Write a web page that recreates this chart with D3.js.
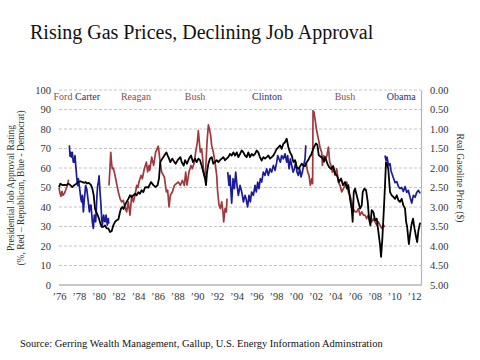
<!DOCTYPE html>
<html><head><meta charset="utf-8">
<script src="https://cdn.jsdelivr.net/npm/d3@7"></script>
<style>body{margin:0;background:#fff} svg{display:block}</style>
</head><body>
<svg id="c" width="480" height="360"></svg>
<script>
const titleText = "Rising Gas Prices, Declining Job Approval";
const sourceText = "Source: Gerring Wealth Management, Gallup, U.S. Energy Information Adminstration";
const leftTitle = ["Presidential Job Approval Rating", "(%, Red \u2013 Republican, Blue - Democrat)"];
const rightTitle = "Real Gasoline Price ($)";
const presidents = ["Ford", "Carter", "Reagan", "Bush", "Clinton", "Bush", "Obama"];
const presidentParty = ["R", "D", "R", "R", "D", "R", "D"];
const presidentLabelYears = [1976.4, 1978.9, 1983.8, 1989.8, 1997.1, 2005.0, 2010.7];
const approvalTicks = [0, 10, 20, 30, 40, 50, 60, 70, 80, 90, 100];
const priceTicks = [0, 0.5, 1, 1.5, 2, 2.5, 3, 3.5, 4, 4.5, 5];
const yearTicks = [1976,1978,1980,1982,1984,1986,1988,1990,1992,1994,1996,1998,2000,2002,2004,2006,2008,2010,2012];

// approval ratings [year, %]
const ford = [[1976.0,50],[1976.1,47],[1976.2,45.5],[1976.3,48],[1976.4,46],[1976.55,47],[1976.7,49],[1976.85,51],[1976.97,54]];
const carter = [[1977.05,71.6],[1977.12,66],[1977.2,68],[1977.28,65.6],[1977.35,68],[1977.45,63],[1977.55,63],[1977.62,66.4],[1977.72,60],[1977.8,55],[1977.89,51],[1977.96,54.5],[1978.13,48],[1978.22,44],[1978.3,42.6],[1978.37,46],[1978.47,37.5],[1978.57,44],[1978.65,48],[1978.7,51],[1978.81,49.4],[1978.97,42.6],[1979.08,37.5],[1979.18,41],[1979.25,40.9],[1979.38,32.4],[1979.48,29],[1979.58,35.8],[1979.65,33],[1979.72,32.4],[1979.85,46],[1979.92,51],[1980.0,53],[1980.06,56],[1980.16,47.7],[1980.26,40.9],[1980.33,34],[1980.39,30.7],[1980.53,35.8],[1980.6,33],[1980.67,32.4],[1980.77,35.8],[1980.9,30.7],[1981.0,34],[1981.05,31.5]];
const reagan = [[1981.07,51],[1981.17,60],[1981.25,68],[1981.34,62],[1981.41,59.6],[1981.5,60],[1981.61,57.9],[1981.75,54.5],[1981.88,51.1],[1982.02,47.7],[1982.19,44.3],[1982.36,42.6],[1982.52,43.4],[1982.69,40],[1982.86,37.5],[1983.03,42.6],[1983.2,35.8],[1983.37,46],[1983.54,42.6],[1983.71,46],[1983.88,51.1],[1984.0,50],[1984.11,52.8],[1984.32,56.2],[1984.45,54.5],[1984.65,59.6],[1984.86,63],[1984.99,58],[1985.13,61.3],[1985.2,58.8],[1985.4,65.6],[1985.6,61.3],[1985.8,68.1],[1986.07,71.2],[1986.24,63.9],[1986.41,57.9],[1986.68,55.4],[1986.89,47.7],[1987.02,48.6],[1987.16,40],[1987.29,46],[1987.49,47.7],[1987.7,51.1],[1987.9,52],[1988.1,52.8],[1988.31,51.1],[1988.51,53.7],[1988.71,51.1],[1988.85,57.9],[1988.98,51.1]];
const bush41 = [[1988.98,51.1],[1989.18,57.9],[1989.39,61.3],[1989.52,59.6],[1989.73,63],[1989.86,68.1],[1990.03,73.3],[1990.13,79.2],[1990.23,73.3],[1990.33,68.1],[1990.47,69.8],[1990.57,64.7],[1990.67,57.9],[1990.81,54.5],[1990.88,59.6],[1991.01,73.3],[1991.15,82.1],[1991.25,80.1],[1991.38,76.7],[1991.48,71.6],[1991.65,68.1],[1991.82,63],[1991.99,56.2],[1992.09,47.7],[1992.23,40.9],[1992.36,39.2],[1992.5,42.6],[1992.63,37.5],[1992.7,32.4],[1992.84,39.2],[1992.97,37.5],[1993.04,44.3]];
const clinton = [[1993.11,57.9],[1993.24,51.1],[1993.34,56.2],[1993.51,42],[1993.65,54.5],[1993.78,49.4],[1993.92,57.9],[1994.05,51.1],[1994.19,46],[1994.36,51.1],[1994.53,47.7],[1994.7,42.6],[1994.86,46],[1994.97,44.3],[1995.13,40],[1995.27,46],[1995.4,42.6],[1995.54,47.7],[1995.71,46],[1995.88,51.1],[1996.01,47.7],[1996.15,52.8],[1996.28,49.4],[1996.42,54.5],[1996.55,52.8],[1996.72,57.9],[1996.89,56.2],[1997.06,59.6],[1997.23,56.2],[1997.4,59.6],[1997.57,57.9],[1997.74,61.3],[1997.91,58.8],[1998.08,63],[1998.18,66.4],[1998.31,64.7],[1998.45,63],[1998.58,66.4],[1998.75,64.7],[1998.92,67.3],[1999.09,63],[1999.19,66.4],[1999.33,59.6],[1999.46,64.7],[1999.6,61.3],[1999.74,57.9],[1999.87,59.6],[2000.0,63],[2000.14,57.9],[2000.27,56.2],[2000.41,59.6],[2000.54,55.4],[2000.68,57.9],[2000.81,61.3],[2000.95,64.7],[2001.03,71.6]];
const bush43 = [[2001.05,63],[2001.22,57.9],[2001.35,56.2],[2001.49,51.1],[2001.63,54.5],[2001.72,52],[2001.76,89.4],[2001.86,88.6],[2001.96,85.2],[2002.1,80.1],[2002.23,76.7],[2002.37,73.3],[2002.5,69.8],[2002.64,68.1],[2002.71,61.3],[2002.84,66.4],[2002.98,64.7],[2003.15,66],[2003.32,70.7],[2003.45,63],[2003.59,61.3],[2003.72,57.9],[2003.86,59.6],[2003.99,56.2],[2004.16,59.6],[2004.33,52.8],[2004.5,51.1],[2004.67,47.7],[2004.84,49.4],[2005.01,51.1],[2005.18,52.8],[2005.34,47.7],[2005.51,46],[2005.68,42.6],[2005.85,39.2],[2006.02,37.5],[2006.19,37.5],[2006.36,39.2],[2006.53,35.8],[2006.7,37.5],[2006.87,35.8],[2007.03,35.8],[2007.2,34.1],[2007.37,35.8],[2007.54,34.1],[2007.71,32.4],[2007.88,34.1],[2008.05,32.4],[2008.22,30.7],[2008.39,32.4],[2008.56,30.7],[2008.72,29],[2008.89,30.7],[2009.04,29.8]];
const obama = [[2009.06,66.4],[2009.16,63.9],[2009.26,65.6],[2009.36,63],[2009.47,61.3],[2009.57,62.2],[2009.67,58.5],[2009.77,57],[2009.87,55.5],[2009.98,54],[2010.08,52.5],[2010.25,53],[2010.42,50.5],[2010.58,49.5],[2010.75,50],[2010.92,48],[2011.09,50.5],[2011.26,47.5],[2011.43,48.5],[2011.6,45],[2011.77,42],[2011.94,46],[2012.11,45],[2012.28,47.5],[2012.45,48.5],[2012.62,47]];
const approvalSeries = [ford, carter, reagan, bush41, clinton, bush43, obama];

// real gasoline price [year, $]
const gasPrice = [[1976.0,2.49],[1976.14,2.40],[1976.34,2.44],[1976.54,2.43],[1976.74,2.44],[1976.95,2.40],[1977.15,2.44],[1977.35,2.49],[1977.55,2.44],[1977.76,2.40],[1977.96,2.36],[1978.16,2.34],[1978.37,2.36],[1978.57,2.38],[1978.7,2.36],[1978.84,2.40],[1978.97,2.38],[1979.11,2.40],[1979.25,2.44],[1979.38,2.53],[1979.52,2.70],[1979.65,3.04],[1979.79,3.13],[1979.92,3.21],[1980.06,3.30],[1980.19,3.42],[1980.33,3.51],[1980.5,3.51],[1980.67,3.47],[1980.83,3.55],[1981.0,3.55],[1981.17,3.64],[1981.34,3.62],[1981.51,3.47],[1981.68,3.38],[1981.85,3.34],[1982.02,3.32],[1982.19,3.13],[1982.29,3.04],[1982.42,3.0],[1982.56,3.05],[1982.69,2.95],[1982.86,2.87],[1983.03,2.79],[1983.2,2.70],[1983.37,2.75],[1983.54,2.70],[1983.71,2.66],[1983.88,2.70],[1984.05,2.62],[1984.21,2.66],[1984.38,2.57],[1984.55,2.62],[1984.72,2.50],[1984.89,2.49],[1985.06,2.50],[1985.33,2.36],[1985.57,2.44],[1985.8,2.49],[1986.0,2.44],[1986.14,2.27],[1986.27,1.85],[1986.48,1.76],[1986.68,1.68],[1986.89,1.60],[1987.02,1.68],[1987.16,1.76],[1987.29,1.85],[1987.49,1.76],[1987.7,1.85],[1987.83,1.89],[1988.03,1.80],[1988.17,1.76],[1988.31,1.72],[1988.44,1.85],[1988.64,1.94],[1988.78,1.80],[1988.98,1.89],[1989.18,1.76],[1989.39,1.68],[1989.59,1.85],[1989.79,1.76],[1989.96,1.85],[1990.13,1.76],[1990.3,1.80],[1990.47,1.94],[1990.64,2.11],[1990.81,2.27],[1990.91,2.44],[1991.01,2.11],[1991.15,1.89],[1991.31,1.76],[1991.48,1.72],[1991.65,1.89],[1991.82,1.85],[1991.99,1.80],[1992.16,1.85],[1992.33,1.80],[1992.5,1.76],[1992.67,1.72],[1992.84,1.80],[1993.0,1.76],[1993.17,1.72],[1993.34,1.64],[1993.51,1.68],[1993.68,1.60],[1993.85,1.68],[1994.02,1.60],[1994.19,1.72],[1994.36,1.64],[1994.53,1.55],[1994.7,1.60],[1994.86,1.68],[1995.03,1.72],[1995.2,1.60],[1995.37,1.72],[1995.54,1.64],[1995.71,1.68],[1995.88,1.64],[1996.05,1.55],[1996.21,1.60],[1996.38,1.72],[1996.55,1.81],[1996.72,1.72],[1996.89,1.76],[1997.06,1.72],[1997.23,1.68],[1997.4,1.76],[1997.57,1.72],[1997.74,1.68],[1997.91,1.60],[1998.08,1.51],[1998.25,1.47],[1998.42,1.42],[1998.58,1.51],[1998.75,1.38],[1998.92,1.34],[1999.09,1.25],[1999.26,1.47],[1999.43,1.60],[1999.6,1.68],[1999.77,1.85],[1999.94,1.80],[2000.11,1.98],[2000.27,2.02],[2000.44,1.96],[2000.61,1.89],[2000.78,1.94],[2000.95,1.95],[2001.12,1.85],[2001.29,1.79],[2001.45,1.70],[2001.56,1.67],[2001.79,1.50],[2002.06,1.37],[2002.2,1.41],[2002.34,1.67],[2002.54,1.71],[2002.74,1.75],[2002.88,1.84],[2003.0,1.72],[2003.2,1.88],[2003.4,1.98],[2003.6,2.03],[2003.8,1.95],[2004.0,2.15],[2004.19,2.19],[2004.4,2.36],[2004.6,2.27],[2004.8,2.44],[2005.01,2.36],[2005.21,2.53],[2005.34,2.44],[2005.51,2.79],[2005.68,3.04],[2005.78,3.38],[2005.89,2.62],[2006.02,2.53],[2006.19,2.70],[2006.36,2.87],[2006.53,3.04],[2006.7,2.96],[2006.8,2.62],[2006.97,2.53],[2007.14,2.57],[2007.31,2.87],[2007.44,3.30],[2007.58,3.47],[2007.71,3.08],[2007.88,3.13],[2008.05,3.34],[2008.22,3.30],[2008.39,3.64],[2008.56,3.98],[2008.66,4.28],[2008.79,3.81],[2008.93,3.13],[2009.06,2.44],[2009.16,1.85],[2009.26,1.89],[2009.39,2.02],[2009.57,2.62],[2009.74,2.70],[2009.91,2.74],[2010.08,2.79],[2010.25,2.70],[2010.42,2.83],[2010.58,2.87],[2010.75,2.79],[2010.92,2.96],[2011.09,3.04],[2011.2,3.38],[2011.3,3.5],[2011.48,3.95],[2011.6,3.7],[2011.75,3.45],[2011.9,3.3],[2012.05,3.55],[2012.2,3.75],[2012.32,3.9],[2012.45,3.6],[2012.62,3.4]];

const partyColor = {R: "#9e3a3f", D: "#1b1b99"};
const labelColor = {R: "#8f4a4c", D: "#2b2f78"};
const serif = "'Liberation Serif', 'DejaVu Serif', serif";

const svg = d3.select("#c");
const M = {left: 59, right: 421, top: 90, bottom: 285};
const x = d3.scaleLinear().domain([1976, 2012.71]).range([M.left, M.right]);
const yA = d3.scaleLinear().domain([0, 100]).range([M.bottom, M.top]);
const yP = d3.scaleLinear().domain([0, 5]).range([M.top, M.bottom]);

// title
svg.append("text").attr("x", 30).attr("y", 39).attr("font-family", serif)
  .attr("font-size", 20).attr("fill", "#111").text(titleText);

// gridlines
svg.append("g").selectAll("line").data(approvalTicks.filter(d => d > 0)).join("line")
  .attr("x1", M.left).attr("x2", M.right).attr("y1", d => yA(d)).attr("y2", d => yA(d))
  .attr("stroke", "#c4c4c4").attr("stroke-width", 1).attr("stroke-dasharray", "3,2");
svg.append("line").attr("x1", M.left).attr("x2", M.right).attr("y1", yA(0)).attr("y2", yA(0))
  .attr("stroke", "#b5b5b5").attr("stroke-width", 1.5);

// axes
const axL = svg.append("g").attr("transform", `translate(${M.left},0)`)
  .call(d3.axisLeft(yA).tickValues(approvalTicks).tickSize(0).tickPadding(8).tickFormat(d3.format("d")));
axL.select(".domain").remove();
const axR = svg.append("g").attr("transform", `translate(${M.right},0)`)
  .call(d3.axisRight(yP).tickValues(priceTicks).tickSize(0).tickSizeOuter(0).tickPadding(9).tickFormat(d3.format(".2f")));
axR.select(".domain").attr("stroke", "#b5b5b5").attr("stroke-width", 1.2);
const axB = svg.append("g").attr("transform", `translate(0,${M.bottom})`)
  .call(d3.axisBottom(x).tickValues(yearTicks).tickSize(0).tickPadding(8).tickFormat(d => "\u2019" + String(d).slice(2)));
axB.select(".domain").remove();
svg.selectAll(".tick text").attr("font-family", serif).attr("font-size", 10.5).attr("fill", "#333");

// axis titles
svg.append("g").attr("transform", "translate(14,188) rotate(-90)").selectAll("text")
  .data(leftTitle).join("text").attr("x", 0).attr("y", (d, i) => i * 10)
  .attr("text-anchor", "middle").attr("font-family", serif).attr("font-size", 9.5).attr("fill", "#333").text(d => d);
svg.append("text").attr("transform", "translate(457,178) rotate(90)").attr("text-anchor", "middle")
  .attr("font-family", serif).attr("font-size", 9.5).attr("fill", "#333").text(rightTitle);

// lines
const lineA = d3.line().x(d => x(d[0])).y(d => yA(d[1]));
const lineP = d3.line().x(d => x(d[0])).y(d => yP(d[1]));
svg.append("g").selectAll("path").data(approvalSeries).join("path")
  .attr("d", lineA).attr("fill", "none")
  .attr("stroke", (d, i) => partyColor[presidentParty[i]]).attr("stroke-width", 1.7)
  .attr("stroke-linejoin", "round");
svg.append("path").datum(gasPrice).attr("d", lineP).attr("fill", "none")
  .attr("stroke", "#000").attr("stroke-width", 1.8).attr("stroke-linejoin", "round");

// president labels
svg.append("g").selectAll("text").data(presidents).join("text")
  .attr("x", (d, i) => x(presidentLabelYears[i])).attr("y", 100).attr("text-anchor", "middle")
  .attr("font-family", serif).attr("font-size", 10).attr("fill", (d, i) => labelColor[presidentParty[i]]).text(d => d);

// source
svg.append("text").attr("x", 20).attr("y", 347).attr("font-family", serif).attr("font-size", 10.5)
  .attr("fill", "#111").text(sourceText);
</script>
</body></html>
